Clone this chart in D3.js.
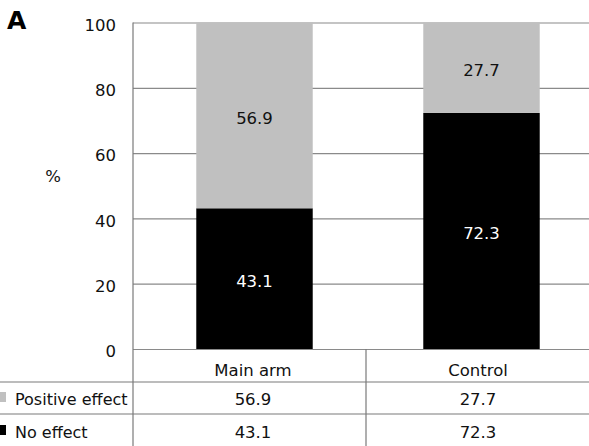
<!DOCTYPE html>
<html>
<head>
<meta charset="utf-8">
<script src="https://cdn.jsdelivr.net/npm/d3@7/dist/d3.min.js"></script>
<style>
  html, body { margin: 0; padding: 0; background: #fff; }
  svg { display: block; font-family: "DejaVu Sans", Verdana, sans-serif; }
</style>
</head>
<body>
<svg id="chart" width="589" height="446"></svg>
<script>
const categories = ["Main arm", "Control"];
const seriesNames = ["Positive effect", "No effect"];
const positiveEffect = [56.9, 27.7];
const noEffect = [43.1, 72.3];
const yTicks = [0, 20, 40, 60, 80, 100];
const seriesColors = ["#c0c0c0", "#000000"];

(function () {
const W = 589, H = 446;
const plotLeft = 133, plotRight = 589, plotTop = 22.5, plotBottom = 349;
const FS = 16.5;
const svg = d3.select("#chart");

const x = d3.scaleBand().domain(categories).range([141, 595])
  .paddingInner(0.487).paddingOuter(0.2435);
const y = d3.scaleLinear().domain([0, 100]).range([plotBottom, plotTop]);

// table columns
const colX = d3.scaleOrdinal().domain(categories).range([253, 478]);

// gridlines
const grid = svg.append("g").attr("transform", `translate(${plotLeft},0)`)
  .call(d3.axisLeft(y).tickValues(yTicks).tickSize(-(plotRight - plotLeft)).tickFormat(""));
grid.select(".domain").remove();
grid.selectAll(".tick line").attr("stroke", "#8a8a8a").attr("stroke-width", 1.2);

// tick labels
svg.append("g").selectAll("text").data(yTicks).join("text")
  .attr("x", 116).attr("y", d => y(d)).attr("dy", "0.5em")
  .attr("text-anchor", "end").attr("font-size", FS).attr("fill", "#111")
  .text(d => d);

// stacked data
const rows = categories.map((c, i) => ({cat: c, "No effect": noEffect[i], "Positive effect": positiveEffect[i]}));
const stack = d3.stack().keys(["No effect", "Positive effect"])(rows);
const colorOf = k => seriesColors[seriesNames.indexOf(k)];

const layers = svg.append("g").selectAll("g").data(stack).join("g")
  .attr("fill", d => colorOf(d.key));
layers.selectAll("rect").data(d => d).join("rect")
  .attr("x", d => x(d.data.cat)).attr("width", x.bandwidth())
  .attr("y", d => y(d[1])).attr("height", d => y(d[0]) - y(d[1]));

// segment labels
stack.forEach(layer => {
  svg.append("g").selectAll("text").data(layer).join("text")
    .attr("x", d => x(d.data.cat) + x.bandwidth() / 2)
    .attr("y", d => y((d[0] + d[1]) / 2)).attr("dy", "0.5em")
    .attr("text-anchor", "middle").attr("font-size", FS)
    .attr("fill", layer.key === "No effect" ? "#fff" : "#111")
    .text(d => (d[1] - d[0]).toFixed(1));
});

// axis & table lines
const lineColor = "#7a7a7a";
svg.append("line").attr("x1", plotLeft).attr("x2", plotLeft).attr("y1", plotTop).attr("y2", H)
  .attr("stroke", lineColor).attr("stroke-width", 1.2);
svg.append("line").attr("x1", 366).attr("x2", 366).attr("y1", plotBottom).attr("y2", H)
  .attr("stroke", lineColor).attr("stroke-width", 1.2);
[382, 414].forEach(yy => {
  svg.append("line").attr("x1", 0).attr("x2", W).attr("y1", yy).attr("y2", yy)
    .attr("stroke", lineColor).attr("stroke-width", 1.2);
});

// table header
svg.append("g").selectAll("text").data(categories).join("text")
  .attr("x", d => colX(d)).attr("y", 376).attr("text-anchor", "middle")
  .attr("font-size", FS).attr("fill", "#111").text(d => d);

// table rows
const tableRows = [
  {name: seriesNames[0], vals: positiveEffect, yb: 405, color: seriesColors[0]},
  {name: seriesNames[1], vals: noEffect, yb: 438, color: seriesColors[1]}
];
tableRows.forEach(r => {
  svg.append("rect").attr("x", -4).attr("y", r.yb - 13).attr("width", 10).attr("height", 10)
    .attr("fill", r.color);
  svg.append("text").attr("x", 15).attr("y", r.yb).attr("font-size", 16)
    .attr("fill", "#111").text(r.name);
  svg.append("g").selectAll("text").data(r.vals).join("text")
    .attr("x", (d, i) => colX(categories[i])).attr("y", r.yb)
    .attr("text-anchor", "middle").attr("font-size", FS).attr("fill", "#111")
    .text(d => d.toFixed(1));
});

// y label and panel letter
svg.append("text").attr("x", 53).attr("y", 182).attr("text-anchor", "middle")
  .attr("font-size", FS).attr("fill", "#111").text("%");
svg.append("text").attr("x", 7).attr("y", 29).attr("font-size", 25)
  .attr("font-weight", "bold").attr("fill", "#000").text("A");
})();
</script>
</body>
</html>
